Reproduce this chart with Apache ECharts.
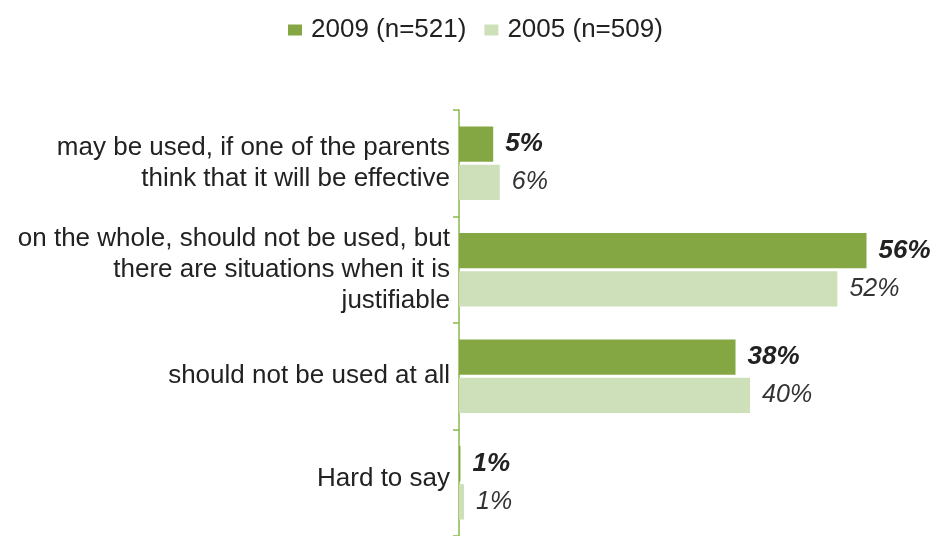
<!DOCTYPE html>
<html>
<head>
<meta charset="utf-8">
<script src="https://cdn.jsdelivr.net/npm/echarts@6/dist/echarts.min.js"></script>
<style>
  html, body { margin: 0; padding: 0; background: #fff; }
  #chart { width: 940px; height: 536px; }
</style>
</head>
<body>
<div id="chart"></div>
<script>
// categories, top to bottom
const categories = [
  'may be used, if one of the parents\nthink that it will be effective',
  'on the whole, should not be used, but\nthere are situations when it is\njustifiable',
  'should not be used at all',
  'Hard to say'
]
const seriesNames = ['2009 (n=521)', '2005 (n=509)']
const values2009 = [4.7, 56, 38, 0.2]
const values2005 = [5.6, 52, 40, 0.7]
const labels2009 = ['5%', '56%', '38%', '1%']
const labels2005 = ['6%', '52%', '40%', '1%']

const chart = echarts.init(document.getElementById('chart'))

const font = 'Liberation Sans, Arial, sans-serif'

// "Hard to say" sits a little above the middle of its band
const lineHeights = [31, 31, 31, 7]

const option = {
  animation: false,
  legend: {
    top: 12,
    left: 283,
    itemWidth: 14,
    itemHeight: 11,
    itemGap: 18,
    icon: 'rect',
    textStyle: { fontFamily: font, fontSize: 26, color: '#222', padding: [0, 0, 0, 4] },
    data: seriesNames
  },
  grid: {
    left: 459,
    right: 8,
    top: 110,
    height: 431,
    containLabel: false
  },
  xAxis: {
    type: 'value',
    min: 0,
    max: 65,
    show: false
  },
  yAxis: {
    type: 'category',
    inverse: true,
    data: categories.map((c, i) => ({ value: c, textStyle: { lineHeight: lineHeights[i] } })),
    axisLine: { show: true, lineStyle: { color: '#8ab84e', width: 1.5 } },
    axisTick: { show: true, length: 6, lineStyle: { color: '#8ab84e', width: 1.5 } },
    axisLabel: {
      margin: 9,
      align: 'right',
      fontFamily: font,
      fontSize: 26,
      color: '#222',
      lineHeight: 31,
      formatter: (v, i) => i === 3 ? v + '\n' : v
    }
  },
  series: [
    {
      name: seriesNames[0],
      type: 'bar',
      data: values2009,
      barCategoryGap: '31%',
      barGap: '8%',
      itemStyle: { color: '#84a744' },
      label: {
        show: true,
        position: 'right',
        distance: 12,
        fontFamily: font,
        fontSize: 26,
        fontWeight: 'bold',
        fontStyle: 'italic',
        color: '#222',
        formatter: p => labels2009[p.dataIndex]
      }
    },
    {
      name: seriesNames[1],
      type: 'bar',
      data: values2005,
      barCategoryGap: '31%',
      barGap: '8%',
      itemStyle: { color: '#cde0b9' },
      label: {
        show: true,
        position: 'right',
        distance: 12,
        fontFamily: font,
        fontSize: 25,
        fontStyle: 'italic',
        color: '#333',
        formatter: p => labels2005[p.dataIndex]
      }
    }
  ]
}

chart.setOption(option)
</script>
</body>
</html>
